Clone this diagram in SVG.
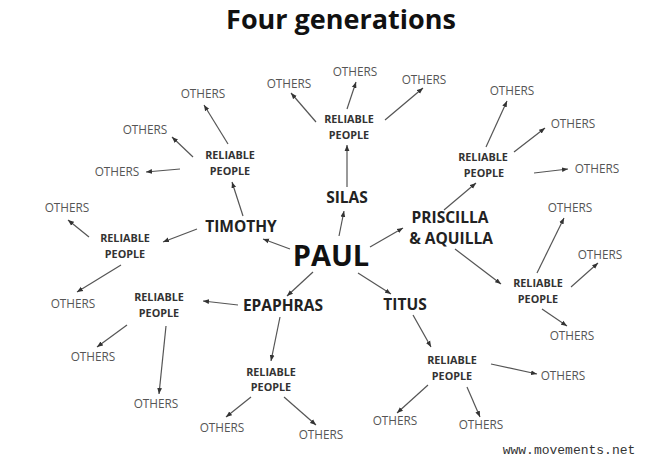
<svg xmlns="http://www.w3.org/2000/svg" width="660" height="460" viewBox="0 0 660 460">
<defs>
<marker id="ah" viewBox="0 0 10 10" refX="10" refY="5" markerWidth="6" markerHeight="6" markerUnits="userSpaceOnUse" orient="auto">
<path d="M0,1 L10,5 L0,9 z" fill="#333"/>
</marker>
<style>
text{font-family:"Open Sans","Liberation Sans",sans-serif;text-anchor:middle}
.title{font-size:27px;font-weight:bold;fill:#111}
.paul{font-size:29px;font-weight:bold;fill:#111}
.gen1{font-size:15.5px;font-weight:bold;fill:#222}
.rp{font-size:10.8px;font-weight:bold;fill:#333}
.oth{font-size:11.8px;fill:#555}
.web{font-family:"Liberation Mono",monospace;font-size:13px;fill:#333}
.conn line{stroke:#555;stroke-width:1.2;marker-end:url(#ah)}
</style>
</defs>
<rect width="660" height="460" fill="#fff"/>
<text class="title" x="341" y="29">Four generations</text>

<g class="conn" id="connectors">
<!-- Paul -->
<line x1="290" y1="249" x2="263" y2="239"/>
<line x1="339" y1="236" x2="344" y2="211"/>
<line x1="370" y1="247" x2="403" y2="228"/>
<line x1="313" y1="272" x2="287" y2="296"/>
<line x1="358" y1="273" x2="391" y2="294"/>
<!-- Timothy -->
<line x1="243" y1="216" x2="232" y2="182"/>
<line x1="197" y1="229" x2="163" y2="242"/>
<line x1="228" y1="144" x2="204" y2="105"/>
<line x1="193" y1="157" x2="172" y2="137"/>
<line x1="180" y1="169" x2="146" y2="172"/>
<line x1="89" y1="237" x2="68" y2="220"/>
<line x1="121" y1="265" x2="77" y2="292"/>
<!-- Silas -->
<line x1="347" y1="187" x2="347" y2="145"/>
<line x1="316" y1="122" x2="291" y2="93"/>
<line x1="347" y1="109" x2="356" y2="82"/>
<line x1="385" y1="120" x2="423" y2="88"/>
<!-- Priscilla -->
<line x1="444" y1="210" x2="476" y2="183"/>
<line x1="455" y1="249" x2="501" y2="284"/>
<line x1="486" y1="147" x2="507" y2="101"/>
<line x1="514" y1="152" x2="545" y2="128"/>
<line x1="534" y1="173" x2="568" y2="169"/>
<line x1="537" y1="273" x2="564" y2="218"/>
<line x1="571" y1="287" x2="598" y2="263"/>
<line x1="542" y1="309" x2="567" y2="326"/>
<!-- Epaphras -->
<line x1="238" y1="305" x2="203" y2="301"/>
<line x1="280" y1="317" x2="271" y2="361"/>
<line x1="127" y1="325" x2="97" y2="347"/>
<line x1="166" y1="326" x2="159" y2="394"/>
<line x1="251" y1="397" x2="226" y2="417"/>
<line x1="284" y1="397" x2="316" y2="425"/>
<!-- Titus -->
<line x1="413" y1="315" x2="431" y2="347"/>
<line x1="491" y1="364" x2="537" y2="374"/>
<line x1="428" y1="385" x2="397" y2="413"/>
<line x1="467" y1="387" x2="480" y2="417"/>
</g>

<g id="paul"><text class="paul" x="331" y="266">PAUL</text></g>
<g id="timothy"><text class="gen1" x="241" y="232">TIMOTHY</text></g>
<g id="silas"><text class="gen1" x="347" y="203">SILAS</text></g>
<g id="priscilla"><text class="gen1" x="450" y="223">PRISCILLA</text><text class="gen1" x="451" y="244">&amp; AQUILLA</text></g>
<g id="epaphras"><text class="gen1" x="283" y="311">EPAPHRAS</text></g>
<g id="titus"><text class="gen1" x="405" y="310">TITUS</text></g>

<g id="rp-timothy-top"><text class="rp" x="230" y="159">RELIABLE</text><text class="rp" x="230" y="175">PEOPLE</text></g>
<g id="rp-timothy-left"><text class="rp" x="125" y="242">RELIABLE</text><text class="rp" x="125" y="258">PEOPLE</text></g>
<g id="rp-silas"><text class="rp" x="349" y="123">RELIABLE</text><text class="rp" x="349" y="139">PEOPLE</text></g>
<g id="rp-priscilla-top"><text class="rp" x="483" y="161">RELIABLE</text><text class="rp" x="484" y="177">PEOPLE</text></g>
<g id="rp-priscilla-right"><text class="rp" x="538" y="287">RELIABLE</text><text class="rp" x="538" y="303">PEOPLE</text></g>
<g id="rp-epaphras-left"><text class="rp" x="159" y="301">RELIABLE</text><text class="rp" x="159" y="317">PEOPLE</text></g>
<g id="rp-epaphras-bottom"><text class="rp" x="271" y="376">RELIABLE</text><text class="rp" x="271" y="391">PEOPLE</text></g>
<g id="rp-titus"><text class="rp" x="452" y="364">RELIABLE</text><text class="rp" x="452" y="380">PEOPLE</text></g>

<g id="others">
<text class="oth" x="203" y="98">OTHERS</text>
<text class="oth" x="145" y="134">OTHERS</text>
<text class="oth" x="117" y="176">OTHERS</text>
<text class="oth" x="67" y="212">OTHERS</text>
<text class="oth" x="73" y="308">OTHERS</text>
<text class="oth" x="289" y="88">OTHERS</text>
<text class="oth" x="355" y="76">OTHERS</text>
<text class="oth" x="424" y="84">OTHERS</text>
<text class="oth" x="512" y="95">OTHERS</text>
<text class="oth" x="573" y="128">OTHERS</text>
<text class="oth" x="597" y="173">OTHERS</text>
<text class="oth" x="570" y="212">OTHERS</text>
<text class="oth" x="600" y="259">OTHERS</text>
<text class="oth" x="572" y="340">OTHERS</text>
<text class="oth" x="563" y="380">OTHERS</text>
<text class="oth" x="395" y="425">OTHERS</text>
<text class="oth" x="481" y="429">OTHERS</text>
<text class="oth" x="93" y="361">OTHERS</text>
<text class="oth" x="156" y="408">OTHERS</text>
<text class="oth" x="222" y="432">OTHERS</text>
<text class="oth" x="321" y="439">OTHERS</text>
</g>
<text class="web" x="569" y="454">www.movements.net</text>
</svg>
